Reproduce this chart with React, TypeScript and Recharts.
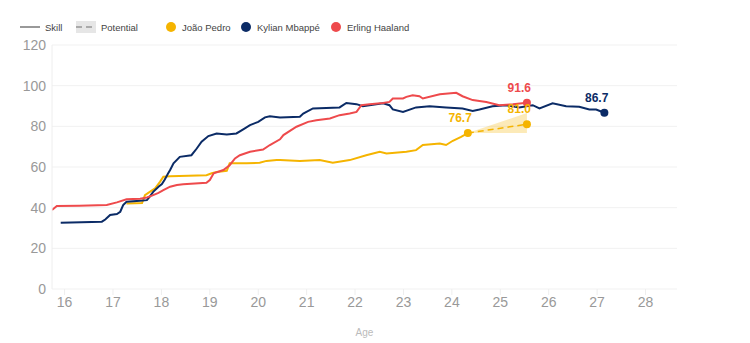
import React from "react";
import { ComposedChart, Line, Area, XAxis, YAxis, CartesianGrid, Label } from "recharts";

const YELLOW = "#F5B400";
const NAVY = "#0B2B66";
const RED = "#EE4A4C";

const xTicks = [16, 17, 18, 19, 20, 21, 22, 23, 24, 25, 26, 27, 28];
const yTicks = [0, 20, 40, 60, 80, 100, 120];

const legendSeries = ["João Pedro", "Kylian Mbappé", "Erling Haaland"];

// [age, skill]
const joaoPedroSkill: [number, number][] = [
  [17.28, 42.1], [17.6, 42.3], [17.66, 46.2], [17.76, 47.8], [17.87, 49.5], [17.97, 52.7],
  [18.04, 55.2], [18.18, 55.5], [18.93, 56.0], [19.04, 56.9], [19.14, 57.6], [19.35, 58.1],
  [19.41, 61.8], [19.76, 61.8], [20.03, 62.1], [20.17, 63.0], [20.38, 63.4], [20.45, 63.4],
  [20.86, 63.0], [21.27, 63.4], [21.54, 62.1], [21.89, 63.4], [22.23, 65.8], [22.51, 67.5],
  [22.65, 66.7], [23.06, 67.5], [23.26, 68.3], [23.4, 70.8], [23.75, 71.6], [23.88, 70.8],
  [24.02, 72.9], [24.19, 74.8], [24.33, 76.7],
];

const mbappeSkill: [number, number][] = [
  [15.92, 32.6], [16.77, 33.1], [16.84, 34.2], [16.94, 36.4], [17.08, 36.9], [17.15, 38.0],
  [17.21, 41.3], [17.28, 42.9], [17.56, 43.4], [17.7, 43.7], [17.76, 45.4], [17.83, 47.8],
  [17.94, 50.3], [18.01, 51.6], [18.07, 53.9], [18.14, 56.9], [18.18, 58.5], [18.25, 61.8],
  [18.38, 65.0], [18.62, 65.8], [18.73, 69.1], [18.83, 72.4], [18.97, 75.2], [19.14, 76.5],
  [19.35, 76.0], [19.55, 76.5], [19.69, 78.5], [19.83, 80.6], [20.0, 82.2], [20.14, 84.4],
  [20.24, 85.0], [20.45, 84.4], [20.86, 84.7], [20.93, 86.3], [21.13, 88.8], [21.68, 89.3],
  [21.82, 91.5], [22.03, 90.9], [22.16, 89.9], [22.58, 91.3], [22.71, 90.4], [22.78, 88.3],
  [22.99, 87.1], [23.26, 89.3], [23.54, 89.9], [23.88, 89.3], [24.22, 88.8], [24.43, 87.6],
  [24.57, 88.3], [24.84, 89.9], [25.12, 90.4], [25.39, 89.3], [25.67, 90.4], [25.81, 88.8],
  [26.08, 91.3], [26.36, 89.9], [26.63, 89.6], [26.84, 88.3], [26.98, 88.3], [27.15, 86.7],
];

const haalandSkill: [number, number][] = [
  [15.74, 38.8], [15.84, 40.8], [16.3, 41.0], [16.87, 41.3], [17.08, 42.6], [17.28, 44.1],
  [17.56, 44.4], [17.7, 45.0], [17.83, 46.2], [17.94, 47.3], [18.04, 48.6], [18.18, 50.3],
  [18.32, 51.1], [18.45, 51.5], [18.93, 52.2], [19.0, 53.6], [19.08, 56.9], [19.28, 58.5],
  [19.41, 60.9], [19.52, 64.2], [19.62, 65.8], [19.83, 67.5], [20.1, 68.6], [20.24, 70.8],
  [20.45, 73.6], [20.52, 75.7], [20.79, 79.8], [21.03, 82.2], [21.2, 83.0], [21.48, 83.9],
  [21.68, 85.5], [21.89, 86.3], [22.03, 87.1], [22.13, 90.4], [22.3, 90.9], [22.58, 91.5],
  [22.71, 92.0], [22.78, 93.7], [22.99, 93.7], [23.06, 94.5], [23.19, 95.3], [23.33, 94.8],
  [23.4, 93.7], [23.75, 95.8], [24.09, 96.5], [24.22, 94.8], [24.43, 92.9], [24.71, 92.0],
  [24.98, 90.4], [25.26, 90.9], [25.55, 91.6],
];

const joaoPedroPotential: [number, number][] = [[24.33, 76.7], [25.55, 81.0]];
// [age, low, high]
const joaoPedroPotentialRange: [number, number, number][] = [[24.33, 76.7, 76.7], [25.55, 76.7, 86.5]];

const toPts = (arr: [number, number][]) => arr.map(([age, value]) => ({ age, value }));
const toRange = (arr: [number, number, number][]) => arr.map(([age, lo, hi]) => ({ age, range: [lo, hi] }));

const FONT = "'Liberation Sans', Arial, sans-serif";

const endDot = (color: string, last: number) => (props: any) => {
  const { cx, cy, index } = props;
  if (index !== last || cx == null) return <g key={`d-${color}-${index}`} />;
  return <circle key={`d-${color}-${index}`} cx={cx} cy={cy} r={4} fill={color} stroke="none" />;
};

const endLabel = (color: string, last: number) => (props: any) => {
  const { x, y, index, value } = props;
  if (index !== last || x == null) return null;
  return (
    <text key={`l-${color}`} x={x + 4} y={y - 11} textAnchor="end" fill={color} fontSize={12} fontWeight="bold" fontFamily={FONT}>
      {Number(value).toFixed(1)}
    </text>
  );
};

const Legend = () => (
  <svg width={420} height={40} style={{ position: "absolute", left: 0, top: 7 }}>
    <line x1={20} x2={40} y1={20} y2={20} stroke="#999" strokeWidth={2} />
    <text x={45} y={23.5} fontSize={9.5} fill="#444" fontFamily={FONT}>Skill</text>
    <rect x={76} y={14} width={20} height={12} fill="#e6e6e6" />
    <line x1={76} x2={96} y1={20} y2={20} stroke="#aaa" strokeWidth={2} strokeDasharray="6 4" />
    <text x={101} y={23.5} fontSize={9.5} fill="#444" fontFamily={FONT}>Potential</text>
    <circle cx={171} cy={20} r={5} fill={YELLOW} />
    <text x={182} y={23.5} fontSize={9.5} fill="#444" fontFamily={FONT}>{legendSeries[0]}</text>
    <circle cx={246} cy={20} r={5} fill={NAVY} />
    <text x={257} y={23.5} fontSize={9.5} fill="#444" fontFamily={FONT}>{legendSeries[1]}</text>
    <circle cx={336} cy={20} r={5} fill={RED} />
    <text x={347} y={23.5} fontSize={9.5} fill="#444" fontFamily={FONT}>{legendSeries[2]}</text>
  </svg>
);

export default function App() {
  const jp = toPts(joaoPedroSkill);
  const km = toPts(mbappeSkill);
  const eh = toPts(haalandSkill);
  const pot = toPts(joaoPedroPotential);
  const potRange = toRange(joaoPedroPotentialRange);
  return (
    <div style={{ position: "absolute", left: 0, top: 0, width: 750, height: 343, background: "#fff" }}>
      <ComposedChart width={750} height={343} margin={{ top: 45, right: 73, left: 0, bottom: 24 }}>
        <CartesianGrid horizontal vertical={false} stroke="#f1f1f1" />
        <XAxis
          type="number"
          dataKey="age"
          domain={[15.74, 28.65]}
          ticks={xTicks}
          allowDataOverflow
          height={30}
          axisLine={false}
          tickLine={{ stroke: "#eeeeee" }}
          tickSize={6}
          tick={{ fill: "#999", fontSize: 14, fontFamily: FONT }}
        >
          <Label value="Age" position="bottom" offset={10} fill="#bbb" fontSize={10} fontFamily={FONT} />
        </XAxis>
        <YAxis
          type="number"
          domain={[0, 120]}
          ticks={yTicks}
          width={52}
          axisLine={{ stroke: "#eeeeee" }}
          tickLine={false}
          tickSize={4}
          tickMargin={2}
          tick={{ fill: "#999", fontSize: 14, fontFamily: FONT }}
        />
        <Area
          data={potRange}
          dataKey="range"
          type="linear"
          stroke="none"
          fill={YELLOW}
          fillOpacity={0.28}
          isAnimationActive={false}
        />
        <Line
          data={pot}
          dataKey="value"
          type="linear"
          stroke={YELLOW}
          strokeWidth={1.5}
          strokeDasharray="6 4"
          dot={endDot(YELLOW, 1)}
          label={endLabel(YELLOW, 1)}
          isAnimationActive={false}
        />
        <Line
          data={jp}
          dataKey="value"
          type="linear"
          stroke={YELLOW}
          strokeWidth={2}
          dot={endDot(YELLOW, jp.length - 1)}
          label={endLabel(YELLOW, jp.length - 1)}
          isAnimationActive={false}
        />
        <Line
          data={km}
          dataKey="value"
          type="linear"
          stroke={NAVY}
          strokeWidth={2}
          dot={endDot(NAVY, km.length - 1)}
          label={endLabel(NAVY, km.length - 1)}
          isAnimationActive={false}
        />
        <Line
          data={eh}
          dataKey="value"
          type="linear"
          stroke={RED}
          strokeWidth={2}
          dot={endDot(RED, eh.length - 1)}
          label={endLabel(RED, eh.length - 1)}
          isAnimationActive={false}
        />
      </ComposedChart>
      <Legend />
    </div>
  );
}
